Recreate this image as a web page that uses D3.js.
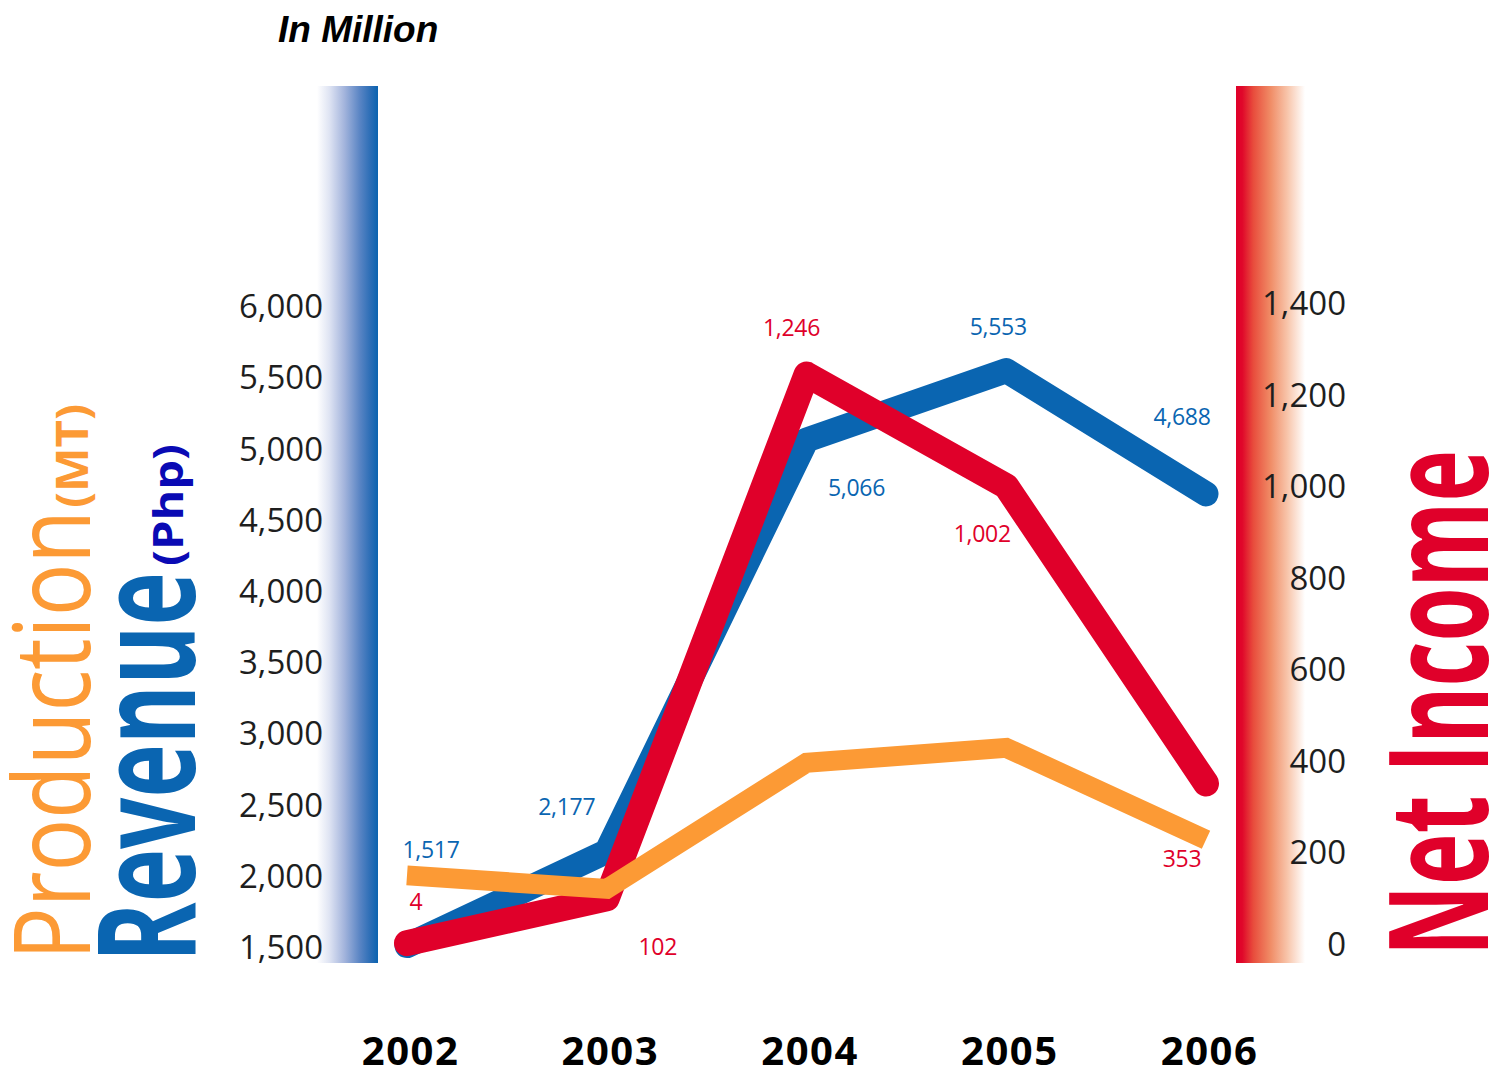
<!DOCTYPE html>
<html>
<head>
<meta charset="utf-8">
<script src="https://cdn.jsdelivr.net/npm/d3@7"></script>
<style>
  html, body { margin: 0; padding: 0; background: #ffffff; }
  svg { display: block; }
</style>
</head>
<body>
<svg id="chart" width="1494" height="1077"></svg>
<script>
// ---------------- DATA ----------------
const years = ["2002", "2003", "2004", "2005", "2006"];
const revenue = [1517, 2177, 5066, 5553, 4688];          // Php, million (left axis)
const netIncome = [4, 102, 1246, 1002, 353];             // million (right axis)
const production = [2010, 1915, 2800, 2905, 2260];       // MT (unlabelled)
const leftTicks = [1500, 2000, 2500, 3000, 3500, 4000, 4500, 5000, 5500, 6000];
const rightTicks = [0, 200, 400, 600, 800, 1000, 1200, 1400];

// label placement (layout, offsets in px from each point)
const revenueLabelOffsets = [[24, -88], [-40, -37], [50, 56], [-8, -36], [-24, -69]];
const incomeLabelOffsets = [[9, -33], [51, 57], [-15, -39], [-24, 56], [-24, 84]];

// ---------------- LAYOUT ----------------
const svg = d3.select("#chart");
const fmt = d3.format(",");
const C = { blue: "#0a65b1", red: "#e0002a", orange: "#fc9a35", navy: "#0a0ab4", text: "#1e1e1e" };

const x = d3.scalePoint().domain(years).range([407, 1206]);
const yL = d3.scaleLinear().domain([1500, 6000]).range([948, 307]);
const yR = d3.scaleLinear().domain([0, 1400]).range([945, 304]);

const defs = svg.append("defs");
const gBlue = defs.append("linearGradient").attr("id", "gBlue").attr("x1", "0%").attr("x2", "100%");
[[0, "#ffffff"], [0.2, "#dfe4f3"], [0.45, "#a3b4dc"], [0.7, "#5a85c4"], [0.88, "#2a6db6"], [1, "#0a63b0"]]
  .forEach(([o, c]) => gBlue.append("stop").attr("offset", o).attr("stop-color", c));
const gRed = defs.append("linearGradient").attr("id", "gRed").attr("x1", "0%").attr("x2", "100%");
[[0, "#e0002a"], [0.09, "#e0072a"], [0.25, "#e84c3c"], [0.5, "#f08c66"], [0.75, "#f8c6ac"], [1, "#ffffff"]]
  .forEach(([o, c]) => gRed.append("stop").attr("offset", o).attr("stop-color", c));

svg.append("rect").attr("x", 317).attr("y", 86).attr("width", 61).attr("height", 877).attr("fill", "url(#gBlue)");
svg.append("rect").attr("x", 1236).attr("y", 86).attr("width", 69).attr("height", 877).attr("fill", "url(#gRed)");

// title
svg.append("text").attr("x", 278).attr("y", 42)
  .attr("font-family", "'Liberation Sans', Arial, sans-serif").attr("font-weight", "bold")
  .attr("font-style", "italic").attr("font-size", 37).attr("fill", "#000").text("In Million");

// axes
const tickFont = (g) => g.selectAll("text")
  .attr("font-family", "'Open Sans', sans-serif").attr("font-size", 33)
  .attr("fill", C.text).attr("letter-spacing", "0");

const axL = svg.append("g").attr("transform", "translate(323,0)")
  .call(d3.axisLeft(yL).tickValues(leftTicks).tickSize(0).tickPadding(0).tickFormat(fmt));
axL.select(".domain").remove();
tickFont(axL);

const axR = svg.append("g").attr("transform", "translate(1346,0)")
  .call(d3.axisLeft(yR).tickValues(rightTicks).tickSize(0).tickPadding(0).tickFormat(fmt));
axR.select(".domain").remove();
tickFont(axR);

const axX = svg.append("g").attr("transform", "translate(3,1037)")
  .call(d3.axisBottom(x).tickSize(0).tickPadding(0));
axX.select(".domain").remove();
axX.selectAll("text").attr("font-family", "'Open Sans', sans-serif").attr("font-weight", "bold")
  .attr("font-size", 40).attr("fill", "#000").attr("letter-spacing", "1.5");

// lines
const lineL = d3.line().x((d, i) => x(years[i])).y(d => yL(d));
const lineR = d3.line().x((d, i) => x(years[i])).y(d => yR(d));

svg.append("path").datum(revenue).attr("d", lineL).attr("fill", "none")
  .attr("stroke", C.blue).attr("stroke-width", 25).attr("stroke-linecap", "round").attr("stroke-linejoin", "round");
svg.append("path").datum(netIncome).attr("d", lineR).attr("fill", "none")
  .attr("stroke", C.red).attr("stroke-width", 26).attr("stroke-linecap", "round").attr("stroke-linejoin", "round");
svg.append("path").datum(production).attr("d", lineL).attr("fill", "none")
  .attr("stroke", C.orange).attr("stroke-width", 20).attr("stroke-linecap", "butt").attr("stroke-linejoin", "miter");

// data labels
const lblFont = (sel) => sel.attr("font-family", "'Open Sans', sans-serif").attr("font-size", 23)
  .attr("text-anchor", "middle").attr("letter-spacing", "-0.3");
svg.append("g").selectAll("text").data(revenue).join("text").call(lblFont)
  .attr("x", (d, i) => x(years[i]) + revenueLabelOffsets[i][0])
  .attr("y", (d, i) => yL(d) + revenueLabelOffsets[i][1])
  .attr("fill", C.blue).text(d => fmt(d));
svg.append("g").selectAll("text").data(netIncome).join("text").call(lblFont)
  .attr("x", (d, i) => x(years[i]) + incomeLabelOffsets[i][0])
  .attr("y", (d, i) => yR(d) + incomeLabelOffsets[i][1])
  .attr("fill", C.red).text(d => fmt(d));

// vertical titles
function vtext(txt, bx, by, len, size, weight, color) {
  svg.append("text").attr("transform", `translate(${bx},${by}) rotate(-90)`)
    .attr("font-family", "'Open Sans', sans-serif").attr("font-size", size).attr("font-weight", weight)
    .attr("fill", color).attr("textLength", len).attr("lengthAdjust", "spacingAndGlyphs").text(txt);
}
vtext("Production", 90, 960, 450, 106, 400, C.orange);
vtext("(MT)", 88, 508, 104, 44, 700, C.orange);
vtext("Revenue", 195, 962, 390, 136, 700, C.blue);
vtext("(Php)", 183, 566, 122, 42, 700, C.navy);
vtext("Net Income", 1488, 956, 506, 138, 700, C.red);
</script>
</body>
</html>
